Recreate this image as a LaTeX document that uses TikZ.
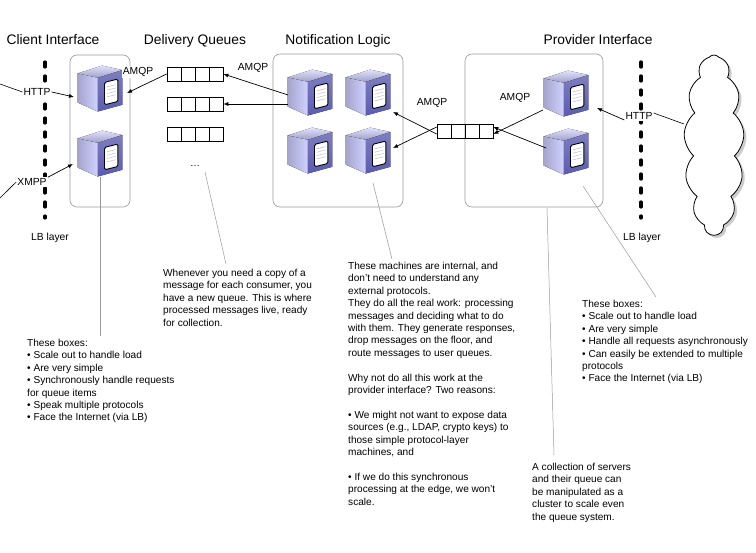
\documentclass[tikz,border=0pt]{standalone}
\usepackage{fontspec}
\setmainfont{Liberation Sans}
\usetikzlibrary{shapes.symbols,arrows.meta,shadows}
\begin{document}
\begin{tikzpicture}[x=1pt,y=-1pt,
  title/.style={font=\fontsize{13.8}{15}\selectfont,anchor=base},
  lbl/.style={font=\fontsize{10.3}{12}\selectfont,inner sep=1pt,fill=white},
  note/.style={font=\fontsize{10.1}{12.4}\selectfont,align=left,anchor=north west,inner sep=0pt},
  grp/.style={draw=gray!80,rounded corners=7pt,line width=0.6pt},
  arr/.style={-{Latex[length=5pt,width=4pt]},line width=0.7pt},
  thin/.style={draw=gray!80,line width=0.5pt},
  lb/.style={line width=3.2pt,dash pattern=on 5pt off 9pt,line cap=round},
  server/.pic={
    \begin{scope}[scale=1.12]
    \fill[top color=blue!12!white,bottom color=blue!25!gray!60] (-20,-13) -- (2,-20) -- (20,-16) -- (-2,-9) -- cycle;
    \fill[left color=blue!30!gray!55,right color=blue!18!white] (-20,-13) -- (-2,-9) -- (-2,21) -- (-20,13) -- cycle;
    \fill[top color=blue!35!gray!75,bottom color=blue!35!gray!95] (-2,-9) -- (20,-16) -- (20,15) -- (-2,21) -- cycle;
    \draw[black,line width=0.9pt,fill=white,rounded corners=1.5pt] (4,-5) -- (16,-8) -- (16,12) -- (4,15) -- cycle;
    \foreach \k in {0,3,6,9} \draw[gray!60,line width=0.4pt] (6,-1+\k) -- (14,-3+\k);
    \fill[green!70!black] (12,16) circle (0.8);
    \end{scope}
  }]
\useasboundingbox (0,0) rectangle (756,553);
% titles
\node[title] (t1) at (53,45) {Client Interface};
\node[title] (t2) at (195,45) {Delivery Queues};
\node[title] (t3) at (338,45) {Notification Logic};
\node[title] (t4) at (598,45) {Provider Interface};
% groups
\node[grp,minimum width=60,minimum height=152,inner sep=0] (g1) at (100,131) {};
\node[grp,minimum width=130,minimum height=153,inner sep=0] (g3) at (338,130.5) {};
\node[grp,minimum width=138,minimum height=153,inner sep=0] (g4) at (534,130.5) {};
% LB layers
\draw[lb] (45,62) -- (45,218);
\draw[lb] (641,62) -- (641,218);
\node[lbl] (lb1) at (50,238) {LB layer};
\node[lbl] (lb2) at (642,238) {LB layer};
% servers
\pic at (100,88) {server}; \coordinate (c1) at (100,88);
\pic at (100,153) {server}; \coordinate (c2) at (100,153);
\pic at (310,92) {server}; \coordinate (n1) at (310,92);
\pic at (368,92) {server}; \coordinate (n2) at (368,92);
\pic at (310,150) {server}; \coordinate (n3) at (310,150);
\pic at (368,150) {server}; \coordinate (n4) at (368,150);
\pic at (566,93) {server}; \coordinate (p1) at (566,93);
\pic at (566,151) {server}; \coordinate (p2) at (566,151);
% queues
\foreach \n/\x/\y in {q1/195/74,q2/195/104,q3/195/134,qc/465/131}{
  \node[draw,line width=0.7pt,minimum width=56,minimum height=14,inner sep=0] (\n) at (\x,\y) {};
  \foreach \i in {-14,0,14} \draw[line width=0.7pt] (\x+\i,\y-7) -- (\x+\i,\y+7);
}
\node[font=\fontsize{10}{12}\selectfont] (dots) at (195,166) {\dots};
% labels
\node[lbl] (http1) at (37,92) {HTTP};
\node[lbl] (xmpp) at (32,182) {XMPP};
\node[lbl] (a1) at (138,72) {AMQP};
\node[lbl] (a2) at (253,68) {AMQP};
\node[lbl] (a3) at (432,103) {AMQP};
\node[lbl] (a4) at (515,98) {AMQP};
\node[lbl] (http2) at (639,116) {HTTP};
% cloud
\node[cloud,cloud puffs=13,cloud puff arc=100,aspect=0.33,draw,line width=0.8pt,fill=white,
  minimum width=60,minimum height=180,inner sep=0,drop shadow={opacity=0.4}] (cloud) at (714,145) {};
% connectors
\coordinate (e1) at (0,84); \coordinate (e2) at (0,198);
\draw[line width=0.6pt] (e1) -- (http1.west);
\draw[arr] (http1.east) -- (74,97);
\draw[line width=0.6pt] (e2) -- (xmpp.west);
\draw[arr] (xmpp.north east) -- (73,164);
\draw[arr] (q1.west) -- (127,93);
\draw[arr] (288,95) -- (q1.east);
\draw[arr] (288,104) -- (q2.east);
\draw[arr] ([yshift=-3]qc.west) -- (393,112);
\draw[arr] ([yshift=4]qc.west) -- (393,148);
\draw[arr] (543,110) -- ([yshift=-3]qc.east);
\draw[arr] (546,148) -- ([yshift=4]qc.east);
\draw[arr] ([yshift=-4]http2.west) -- (597,108);
\draw[line width=0.6pt] ([yshift=3]http2.east) -- (684,124);
% notes
\node[note] (nl) at (27,339) {These boxes:\\• Scale out to handle load\\• Are very simple\\• Synchronously handle requests\\for queue items\\• Speak multiple protocols\\• Face the Internet (via LB)};
\node[note] (nd) at (163,269) {Whenever you need a copy of a\\message for each consumer, you\\have a new queue. This is where\\processed messages live, ready\\for collection.};
\node[note] (nn) at (348,262) {These machines are internal, and\\don't need to understand any\\external protocols.\\They do all the real work: processing\\messages and deciding what to do\\with them. They generate responses,\\drop messages on the floor, and\\route messages to user queues.\\[12.4pt]Why not do all this work at the\\provider interface? Two reasons:\\[12.4pt]• We might not want to expose data\\sources (e.g., LDAP, crypto keys) to\\those simple protocol-layer\\machines, and\\[12.4pt]• If we do this synchronous\\processing at the edge, we won't\\scale.};
\node[note] (np) at (582,300) {These boxes:\\• Scale out to handle load\\• Are very simple\\• Handle all requests asynchronously\\• Can easily be extended to multiple\\protocols\\• Face the Internet (via LB)};
\node[note] (nc) at (532,463) {A collection of servers\\and their queue can\\be manipulated as a\\cluster to scale even\\the queue system.};
\draw[thin] (100,177) -- (100,336);
\draw[thin] (205,172) -- (226,264);
\draw[thin] (373,183) -- (392,259);
\draw[thin] (583,186) -- (656,297);
\draw[thin] (547,208) -- (554,455);
\end{tikzpicture}
\end{document}
